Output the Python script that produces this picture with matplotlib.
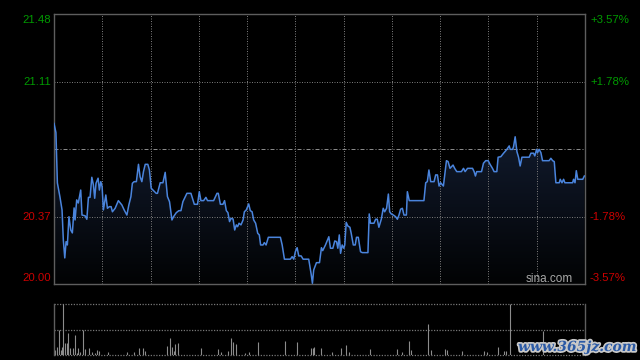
import matplotlib
matplotlib.use('Agg')
import matplotlib.pyplot as plt
import numpy as np
from matplotlib.colors import LinearSegmentedColormap
import matplotlib.patheffects as pe

# ---------------- data ----------------
y_min, y_max = 20.00, 21.48
prev_close = 20.74
session_minutes = 330

times = [0, 1.2, 2.1, 3.7, 5.0, 5.8, 6.7, 7.5, 8.3, 9.3,
         10.4, 11.4, 12.5, 13.1, 14.1, 15.1, 16.6, 17.4, 19.3, 20.4,
         21.4, 22.4, 23.5, 24.5, 25.3, 26.1, 27.4, 28.2, 29.1, 29.9,
         30.7, 32.2, 33.2, 34.4, 35.5, 36.3, 38.0, 40.0, 42.2, 43.6,
         45.3, 46.5, 47.8, 48.7, 49.8, 51.2, 52.5, 53.5, 54.6, 55.6,
         56.7, 58.3, 59.3, 60.4, 61.8, 63.5, 64.3, 66.0, 67.7, 69.1,
         70.5, 71.8, 73.3, 74.3, 76.0, 77.6, 78.9, 80.1, 81.6, 82.6,
         85.1, 87.2, 89.2, 90.3, 91.3, 93.0, 94.4, 95.4, 99.2, 101.3,
         102.1, 103.4, 105.0, 106.0, 107.1, 108.1, 109.1, 110.0, 111.3, 112.3,
         113.3, 114.1, 115.0, 116.2, 117.5, 118.3, 119.5, 121.0, 122.0, 123.1,
         124.1, 125.3, 126.6, 127.6, 128.4, 129.9, 130.7, 131.8, 133.2, 140.7,
         141.8, 143.2, 146.9, 148.0, 149.0, 150.0, 151.1, 152.1, 153.6, 154.8,
         158.3, 159.8, 160.6, 161.4, 162.5, 163.1, 165.0, 166.2, 167.0, 168.7,
         170.8, 171.8, 173.3, 174.5, 175.6, 176.4, 177.3, 178.1, 179.1, 180.1,
         180.7, 181.6, 182.6, 183.9, 184.7, 186.0, 187.2, 188.0, 189.1, 190.5,
         191.6, 195.1, 195.9, 196.7, 198.8, 199.9, 200.9, 201.9, 203.4, 204.6,
         205.5, 206.7, 207.8, 208.6, 209.6, 210.9, 212.3, 213.4, 214.4, 215.4,
         216.5, 217.5, 219.0, 219.6, 220.8, 229.9, 231.0, 232.0, 233.0, 234.1,
         236.2, 237.2, 238.3, 239.3, 240.3, 242.0, 243.9, 244.9, 246.1, 248.0,
         249.0, 250.3, 253.2, 254.5, 255.5, 257.0, 260.1, 261.1, 261.9, 262.7,
         265.7, 266.9, 268.3, 269.8, 271.0, 272.5, 273.5, 275.2, 276.0, 277.7,
         279.4, 280.8, 281.9, 282.9, 283.5, 285.0, 285.6, 286.6, 287.7, 288.7,
         289.7, 290.8, 295.3, 296.4, 298.0, 298.8, 299.9, 300.5, 301.5, 302.6,
         303.6, 307.7, 308.8, 309.9, 310.9, 311.9, 314.0, 314.6, 315.7, 316.7,
         317.5, 322.3, 322.9, 323.8, 324.6, 325.5, 328.6, 329.6]

prices = [20.88, 20.83, 20.554, 20.477, 20.406, 20.241, 20.143, 20.232, 20.214, 20.369,
          20.296, 20.28, 20.417, 20.351, 20.461, 20.444, 20.515, 20.378, 20.374, 20.355,
          20.475, 20.475, 20.585, 20.543, 20.47, 20.552, 20.58, 20.515, 20.561, 20.533,
          20.406, 20.488, 20.415, 20.424, 20.424, 20.396, 20.415, 20.457, 20.433, 20.406,
          20.378, 20.433, 20.479, 20.552, 20.561, 20.561, 20.656, 20.588, 20.561, 20.616,
          20.656, 20.656, 20.625, 20.525, 20.512, 20.497, 20.497, 20.555, 20.555, 20.612,
          20.479, 20.451, 20.351, 20.369, 20.391, 20.402, 20.402, 20.451, 20.479, 20.497,
          20.497, 20.437, 20.437, 20.506, 20.457, 20.457, 20.475, 20.457, 20.457, 20.497,
          20.497, 20.437, 20.437, 20.457, 20.402, 20.391, 20.342, 20.36, 20.356, 20.296,
          20.324, 20.314, 20.333, 20.324, 20.351, 20.396, 20.406, 20.439, 20.402, 20.396,
          20.351, 20.333, 20.278, 20.269, 20.214, 20.214, 20.227, 20.214, 20.256, 20.256,
          20.214, 20.136, 20.136, 20.15, 20.136, 20.177, 20.199, 20.154, 20.154, 20.136,
          20.136, 20.055, 20.004, 20.077, 20.104, 20.117, 20.117, 20.199, 20.183, 20.214,
          20.259, 20.196, 20.196, 20.236, 20.232, 20.196, 20.269, 20.168, 20.214, 20.196,
          20.214, 20.338, 20.318, 20.311, 20.278, 20.214, 20.214, 20.256, 20.256, 20.177,
          20.172, 20.172, 20.384, 20.333, 20.333, 20.355, 20.355, 20.311, 20.355, 20.415,
          20.396, 20.415, 20.493, 20.396, 20.384, 20.378, 20.369, 20.355, 20.378, 20.41,
          20.415, 20.378, 20.378, 20.506, 20.457, 20.457, 20.555, 20.561, 20.625, 20.561,
          20.561, 20.598, 20.598, 20.537, 20.555, 20.537, 20.676, 20.671, 20.634, 20.652,
          20.634, 20.616, 20.616, 20.634, 20.616, 20.634, 20.634, 20.616, 20.592, 20.616,
          20.616, 20.662, 20.676, 20.676, 20.656, 20.634, 20.616, 20.616, 20.695, 20.698,
          20.717, 20.731, 20.744, 20.757, 20.738, 20.738, 20.753, 20.807, 20.725, 20.695,
          20.647, 20.695, 20.695, 20.717, 20.717, 20.702, 20.738, 20.72, 20.738, 20.72,
          20.676, 20.676, 20.689, 20.676, 20.671, 20.555, 20.555, 20.574, 20.555, 20.574,
          20.555, 20.555, 20.574, 20.555, 20.621, 20.574, 20.574, 20.592]

vol_times = [0.6, 2.0, 3.3, 4.2, 5.2, 5.8, 7.0, 8.1, 8.9, 10.1,
             12.0, 13.3, 14.1, 15.1, 16.2, 18.2, 19.1, 22.0, 23.5, 25.5,
             27.0, 28.2, 33.8, 45.6, 50.0, 53.1, 55.6, 56.8, 70.5, 71.8,
             73.6, 74.7, 75.5, 76.8, 91.1, 101.7, 103.5, 107.9, 109.8, 111.0,
             112.9, 118.5, 121.0, 126.6, 143.4, 150.9, 159.6, 160.8, 161.5, 166.0,
             172.9, 178.5, 181.4, 183.2, 196.3, 212.9, 216.0, 220.6, 221.7, 232.4,
             234.5, 242.8, 244.1, 253.8, 267.3, 268.8, 276.0, 279.4, 281.0, 283.5,
             304.0]
vol_values = [10, 16, 49, 10, 16, 100, 23, 23, 44, 13,
              13, 39, 3, 13, 5, 49, 11, 13, 5, 3,
              10, 8, 6, 5, 6, 13, 13, 8, 18, 33,
              15, 7, 21, 23, 13, 11, 6, 8, 33, 26,
              22, 3, 6, 26, 28, 26, 13, 14, 16, 13,
              5, 13, 20, 5, 11, 11, 6, 28, 10, 61,
              10, 11, 10, 8, 8, 5, 15, 8, 8, 100,
              48]

left_labels = ['21.48', '21.11', '20.37', '20.00']
left_values = [21.48, 21.11, 20.37, 20.00]
right_labels = ['+3.57%', '+1.78%', '-1.78%', '-3.57%']

# ---------------- style ----------------
GREEN = '#009a00'
RED = '#cc0000'
LINE = '#4a84dc'
SPINE = '#5e5e5e'
GRID = '#777777'
FONT = 'Liberation Sans'

fig = plt.figure(figsize=(6.4, 3.6), dpi=100, facecolor='black')

# ---------------- price panel ----------------
ax = fig.add_axes([54 / 640, 76 / 360, 531 / 640, 270 / 360])
ax.set_facecolor('black')
ax.set_xlim(0, session_minutes)
ax.set_ylim(y_min, y_max)
ax.set_xticks([])
ax.set_yticks([])
for s in ax.spines.values():
    s.set_color(SPINE)
    s.set_linewidth(1.0)

for t in range(30, session_minutes, 30):
    ax.axvline(t, color=GRID, lw=0.72, ls=(0, (1, 1.5)), zorder=2)
for v in (21.11, 20.37):
    ax.axhline(v, color=GRID, lw=0.72, ls=(0, (1, 1.5)), zorder=2)
ax.axhline(prev_close, color='#8a8a8a', lw=0.72, ls=(0, (4, 2, 1, 2)), zorder=2)

# gradient fill under price line
poly = ax.fill_between(times, prices, y_min, color='none', lw=0)
cmap = LinearSegmentedColormap.from_list('fillgrad', ['#020304', '#121c30'])
grad = np.linspace(0, 1, 256).reshape(-1, 1)
img = ax.imshow(grad, extent=[0, session_minutes, y_min, max(prices)], aspect='auto',
                origin='lower', cmap=cmap, zorder=1, interpolation='bicubic')
img.set_clip_path(poly.get_paths()[0], transform=ax.transData)

ax.plot(times, prices, color=LINE, lw=1.1, zorder=3, solid_joinstyle='round')

# axis labels
offsets = [-6, 0, 0, 6]
for lab, val, dy in zip(left_labels, left_values, offsets):
    col = GREEN if val > prev_close else RED
    ax.annotate(lab, xy=(0, val), xycoords=ax.get_yaxis_transform(),
                xytext=(-3, dy), textcoords='offset pixels', ha='right', va='center',
                color=col, fontsize=8.2, family=FONT, annotation_clip=False)
for lab, val, dy in zip(right_labels, left_values, offsets):
    col = GREEN if val > prev_close else RED
    ax.annotate(lab, xy=(1, val), xycoords=ax.get_yaxis_transform(),
                xytext=(5, dy), textcoords='offset pixels', ha='left', va='center',
                color=col, fontsize=8.2, family=FONT, annotation_clip=False)

ax.text((573 - 54) / 531, 2.5 / 270, 'sina.com', transform=ax.transAxes,
        ha='right', va='baseline', color='#a8a8a8', fontsize=8.5, family=FONT, zorder=4)

# ---------------- volume panel ----------------
ax2 = fig.add_axes([54 / 640, 5 / 360, 531 / 640, 51 / 360])
ax2.set_facecolor('black')
ax2.set_xlim(0, session_minutes)
ax2.set_ylim(0, max(vol_values))
ax2.set_xticks([])
ax2.set_yticks([])
for side in ('top', 'bottom'):
    ax2.spines[side].set_visible(False)
for side in ('left', 'right'):
    ax2.spines[side].set_color(SPINE)
    ax2.spines[side].set_linewidth(1.0)
for v in (max(vol_values), max(vol_values) / 2, 0):
    ax2.axhline(v, color=GRID, lw=0.9, ls=(0, (1, 1.2)), clip_on=False, zorder=1)
ax2.vlines(vol_times, 0, vol_values, color='#8c8c8c', lw=0.8, zorder=2)

# watermark
fig.text(518 / 640, 9 / 360, 'www.365jz.com', color='#2b5aa6', fontsize=10,
         fontweight='bold', style='italic', family='DejaVu Serif',
         ha='left', va='baseline',
         path_effects=[pe.withStroke(linewidth=2.5, foreground='#c8c8c8')])

fig.savefig('out.png', dpi=100, facecolor='black')
